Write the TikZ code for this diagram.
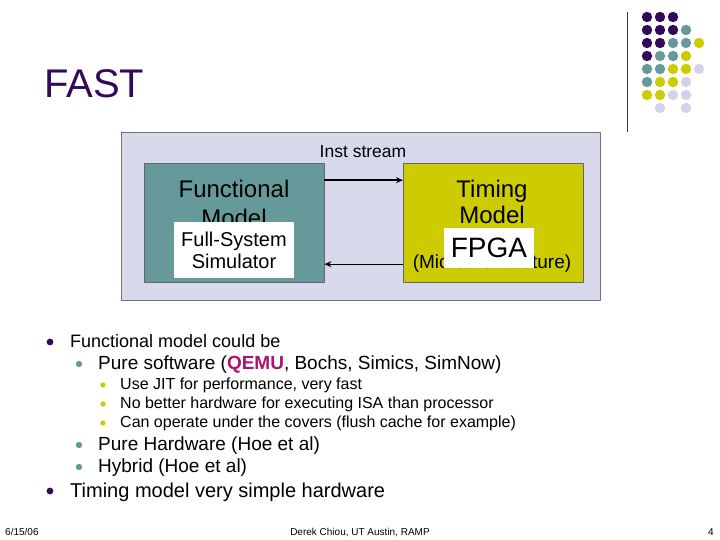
\documentclass[tikz,border=0pt]{standalone}
\usepackage{fontspec}
\setmainfont{Liberation Sans}
\usetikzlibrary{arrows.meta}
\definecolor{fastpurple}{RGB}{51,10,90}
\definecolor{fastteal}{RGB}{102,153,153}
\definecolor{fastolive}{RGB}{204,204,0}
\definecolor{fastlav}{RGB}{210,210,232}
\definecolor{fastbg}{RGB}{217,217,236}
\definecolor{qemured}{RGB}{170,20,110}
\newcommand{\fsz}[1]{\fontsize{#1}{#1}\selectfont}
\begin{document}
\begin{tikzpicture}[x=1pt,y=-1pt,line join=round,>={Stealth[length=7pt,width=6pt]}]
\def \xmax{720};
\def \ymax{540};
\useasboundingbox (0,0) rectangle (\xmax,\ymax);
% logo
\draw[black!80] (627,12) -- (627,132);
\foreach \c/\r/\col in {0/0/fastpurple,1/0/fastpurple,2/0/fastpurple,
  0/1/fastpurple,1/1/fastpurple,2/1/fastpurple,3/1/fastteal,
  0/2/fastpurple,1/2/fastpurple,2/2/fastteal,3/2/fastteal,4/2/fastolive,
  0/3/fastpurple,1/3/fastteal,2/3/fastteal,3/3/fastolive,
  0/4/fastteal,1/4/fastteal,2/4/fastolive,3/4/fastolive,4/4/fastlav,
  0/5/fastteal,1/5/fastolive,2/5/fastolive,3/5/fastlav,
  0/6/fastolive,1/6/fastolive,2/6/fastlav,3/6/fastlav,
  1/7/fastlav,3/7/fastlav}{\fill[\col] (647+13*\c,17+13*\r) circle(5.2);}
\node[anchor=base west,text=fastpurple,font=\fsz{40pt},inner sep=0pt] (title) at (44,98) {FAST};
% diagram
\draw[fill=fastbg,draw=black!55] (121,132) rectangle (600,300);
\node[draw=black!60,fill=fastteal,minimum width=180,minimum height=119,anchor=north west] (fm) at (144,163) {};
\node[draw=black!60,fill=fastolive,minimum width=180,minimum height=119,anchor=north west] (tm) at (403,163) {};
\node[font=\fsz{24pt},anchor=base,inner sep=0pt] (fmt1) at (234,197) {Functional};
\node[font=\fsz{24pt},anchor=base,inner sep=0pt] (fmt2) at (234,226) {Model};
\node[font=\fsz{24pt},anchor=base,inner sep=0pt] (tmt1) at (492,197) {Timing};
\node[font=\fsz{24pt},anchor=base,inner sep=0pt] (tmt2) at (492,224) {Model};
\node[font=\fsz{19pt},anchor=base,inner sep=0pt] (micro) at (492,268) {(Microarchitecture)};
\node[fill=white,minimum width=120,minimum height=56,align=center,font=\fsz{20pt},inner sep=0pt] (fss) at (234,250) {Full-System\\[2pt]Simulator};
\node[fill=white,minimum width=90,minimum height=40,font=\fsz{28pt},inner sep=0pt] (fpga) at (489,248) {FPGA};
\node[font=\fsz{17.5pt},anchor=base,inner sep=0pt] (inst) at (363,158) {Inst stream};
\draw[->,line width=2.4pt] ([yshift=42.5pt]fm.east) -- ([yshift=42.5pt]tm.west);
\draw[->,line width=1pt] ([yshift=-41.5pt]tm.west) -- ([yshift=-41.5pt]fm.east);
% bullets
\foreach \x/\y/\r/\col in {50/342/3.4/fastpurple,50/491/3.4/fastpurple,
  79/364/3.2/fastteal,79/445/3.2/fastteal,79/467/3.2/fastteal,
  103/385/2.7/fastolive,103/404/2.7/fastolive,103/423/2.7/fastolive}{\fill[\col] (\x,\y) circle(\r);}
\node[anchor=base west,font=\fsz{18pt},inner sep=0pt] (b1) at (70,347) {Functional model could be};
\node[anchor=base west,font=\fsz{19pt},inner sep=0pt] (b2) at (98,369) {Pure software (\textcolor{qemured}{\textbf{QEMU}}, Bochs, Simics, SimNow)};
\node[anchor=base west,font=\fsz{16pt},inner sep=0pt] (b3) at (120,389) {Use JIT for performance, very fast};
\node[anchor=base west,font=\fsz{16pt},inner sep=0pt] (b4) at (120,408) {No better hardware for executing ISA than processor};
\node[anchor=base west,font=\fsz{16pt},inner sep=0pt] (b5) at (120,427) {Can operate under the covers (flush cache for example)};
\node[anchor=base west,font=\fsz{19pt},inner sep=0pt] (b6) at (98,450) {Pure Hardware (Hoe et al)};
\node[anchor=base west,font=\fsz{19pt},inner sep=0pt] (b7) at (98,472) {Hybrid (Hoe et al)};
\node[anchor=base west,font=\fsz{20pt},inner sep=0pt] (b8) at (70,497) {Timing model very simple hardware};
% footer
\node[anchor=base west,font=\fsz{10pt},inner sep=0pt] (date) at (5,535) {6/15/06};
\node[anchor=base,font=\fsz{10pt},inner sep=0pt] (author) at (360,535) {Derek Chiou, UT Austin, RAMP};
\node[anchor=base east,font=\fsz{10pt},inner sep=0pt] (page) at (714,535) {4};
\end{tikzpicture}
\end{document}
